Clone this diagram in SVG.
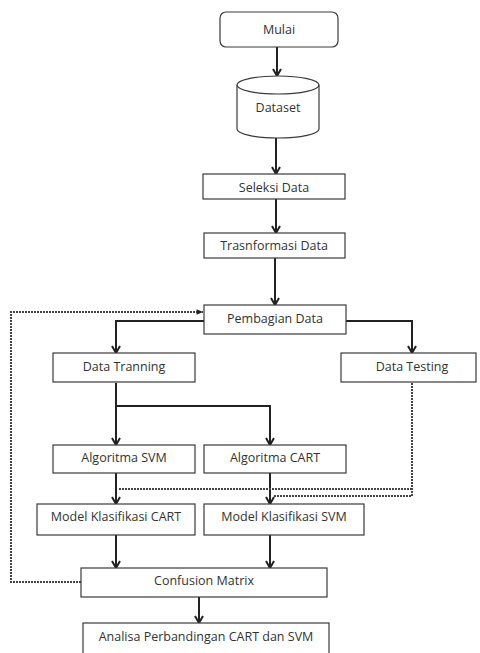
<svg xmlns="http://www.w3.org/2000/svg" width="480" height="653" viewBox="0 0 480 653">
<style>
.box{fill:#fff;stroke:#3a3a3a;stroke-width:1.2}
.t{font-family:"Open Sans","Liberation Sans",sans-serif;font-size:12.5px;fill:#333;text-anchor:middle;dominant-baseline:central}
.c{fill:none;stroke:#222;stroke-width:2}
.d{fill:none;stroke:#444;stroke-width:2;stroke-dasharray:2,1}
</style>
<defs>
<marker id="a" viewBox="0 0 10 10" refX="9" refY="5" markerWidth="10" markerHeight="10" markerUnits="userSpaceOnUse" orient="auto">
<path d="M2,1 L9,5 L2,9" fill="none" stroke="#222" stroke-width="2"/>
</marker>
<marker id="f" viewBox="0 0 10 10" refX="9" refY="5" markerWidth="8" markerHeight="8" markerUnits="userSpaceOnUse" orient="auto">
<path d="M1,1.5 L9,5 L1,8.5 Z" fill="#222"/>
</marker>
</defs>
<rect width="480" height="653" fill="#fff"/>
<g id="connectors">
<path class="c" d="M277,47 V76" marker-end="url(#a)"/>
<path class="c" d="M276,138 V174" marker-end="url(#a)"/>
<path class="c" d="M276,199 V233" marker-end="url(#a)"/>
<path class="c" d="M275,258 V305" marker-end="url(#a)"/>
<path class="c" d="M204,321 H116 V353" marker-end="url(#a)"/>
<path class="c" d="M346,321 H412 V353" marker-end="url(#a)"/>
<path class="c" d="M116,383 V445" marker-end="url(#a)"/>
<path class="c" d="M116,406 H270 V445" marker-end="url(#a)"/>
<path class="c" d="M116,473 V504" marker-end="url(#a)"/>
<path class="c" d="M270,473 V504" marker-end="url(#a)"/>
<path class="c" d="M116,535 V568" marker-end="url(#a)"/>
<path class="c" d="M270,535 V568" marker-end="url(#a)"/>
<path class="c" d="M199,597 V623" marker-end="url(#a)"/>
<path class="d" d="M81,582 H11 V312 H203" marker-end="url(#f)"/>
<path class="d" d="M412,383 V496 H273"/>
<path class="d" d="M412,489 H119"/>
</g>
<g id="mulai"><rect class="box" x="220" y="12" width="118" height="35" rx="6"/><text class="t" x="279" y="29">Mulai</text></g>
<g id="dataset">
<path class="box" d="M237,85 V129 A41,9 0 0 0 319,129 V85"/>
<ellipse class="box" cx="278" cy="85" rx="41" ry="9"/>
<text class="t" x="278" y="107">Dataset</text>
</g>
<g id="seleksi"><rect class="box" x="203" y="174" width="142" height="25"/><text class="t" x="274" y="187">Seleksi Data</text></g>
<g id="transformasi"><rect class="box" x="204" y="233" width="141" height="25"/><text class="t" x="274" y="245">Trasnformasi Data</text></g>
<g id="pembagian"><rect class="box" x="204" y="305" width="142" height="29"/><text class="t" x="275" y="318">Pembagian Data</text></g>
<g id="tranning"><rect class="box" x="53" y="353" width="142" height="29"/><text class="t" x="124" y="366">Data Tranning</text></g>
<g id="testing"><rect class="box" x="341" y="353" width="135" height="29"/><text class="t" x="412" y="366">Data Testing</text></g>
<g id="algsvm"><rect class="box" x="53" y="445" width="142" height="28"/><text class="t" x="124" y="457">Algoritma SVM</text></g>
<g id="algcart"><rect class="box" x="204" y="445" width="142" height="28"/><text class="t" x="275" y="457">Algoritma CART</text></g>
<g id="modelcart"><rect class="box" x="37" y="504" width="158" height="31"/><text class="t" x="116" y="516">Model Klasifikasi CART</text></g>
<g id="modelsvm"><rect class="box" x="204" y="504" width="160" height="31"/><text class="t" x="284" y="516">Model Klasifikasi SVM</text></g>
<g id="confusion"><rect class="box" x="81" y="568" width="246" height="29"/><text class="t" x="204" y="580">Confusion Matrix</text></g>
<g id="analisa"><rect class="box" x="83" y="623" width="246" height="32"/><text class="t" x="206" y="636">Analisa Perbandingan CART dan SVM</text></g>
</svg>
